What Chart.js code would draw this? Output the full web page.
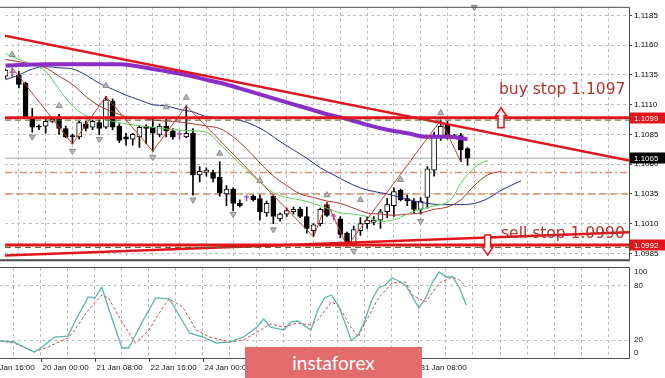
<!DOCTYPE html>
<html>
<head>
<meta charset="utf-8">
<script src="https://cdn.jsdelivr.net/npm/chart.js@4.4.1/dist/chart.umd.min.js"></script>
<style>
  html, body { margin: 0; padding: 0; background: #fff; }
  #wrap { position: relative; width: 665px; height: 378px; overflow: hidden; background: #fff; }
  #main { position: absolute; left: 0; top: 0; }
  #stoch { position: absolute; left: 0; top: 265px; }
  #logo {
    position: absolute; left: 245px; top: 347px; width: 177px; height: 31px;
    background: #e46b6b; color: #fff; font: 19px Lato, "Open Sans", sans-serif;
    text-align: center; line-height: 31px; z-index: 5;
  }
</style>
</head>
<body>
<div id="wrap">
  <canvas id="main" width="665" height="266"></canvas>
  <canvas id="stoch" width="665" height="113"></canvas>
  <div id="logo">instaforex</div>
</div>
<script>
// EURUSD H4 — bars are indexed from the "20 Jan 00:00" bar (index 0)
const FIRST_BAR = -6;
const OPEN  = [1.1134,1.1137,1.1135,1.1128,1.1099,1.1092,1.1092,1.1096,1.1098,1.1090,1.1084,1.1083,1.1094,1.1091,1.1095,1.1091,1.1113,1.1092,1.1083,1.1081,1.1083,1.1092,1.1091,1.1085,1.1092,1.1088,1.1085,1.1083,1.1086,1.1051,1.1053,1.1053,1.1049,1.1035,1.1039,1.1027,1.1032,1.1033,1.1031,1.1019,1.1033,1.1014,1.1018,1.1020,1.1022,1.1016,1.1004,1.1010,1.1026,1.1016,1.1014,1.1002,1.0993,1.1004,1.1010,1.1011,1.1013,1.1020,1.1025,1.1038,1.1031,1.1029,1.1022,1.1032,1.1055,1.1084,1.1093,1.1084,1.1084,1.1073];
const HIGH  = [1.1140,1.1141,1.1138,1.1129,1.1107,1.1093,1.1098,1.1099,1.1102,1.1092,1.1085,1.1096,1.1096,1.1097,1.1097,1.1117,1.1115,1.1094,1.1086,1.1086,1.1092,1.1093,1.1099,1.1094,1.1099,1.1090,1.1088,1.1109,1.1090,1.1058,1.1057,1.1055,1.1062,1.1042,1.1040,1.1030,1.1034,1.1034,1.1034,1.1029,1.1034,1.1019,1.1023,1.1024,1.1024,1.1024,1.1010,1.1023,1.1028,1.1018,1.1016,1.1003,1.1008,1.1015,1.1016,1.1016,1.1022,1.1031,1.1040,1.1039,1.1034,1.1031,1.1032,1.1058,1.1087,1.1097,1.1096,1.1085,1.1086,1.1074];
const LOW   = [1.1132,1.1133,1.1124,1.1099,1.1087,1.1089,1.1086,1.1095,1.1085,1.1082,1.1077,1.1081,1.1088,1.1089,1.1085,1.1090,1.1089,1.1078,1.1076,1.1076,1.1074,1.1077,1.1071,1.1083,1.1083,1.1081,1.1081,1.1082,1.1034,1.1045,1.1050,1.1045,1.1033,1.1025,1.1021,1.1024,1.1029,1.1029,1.1013,1.1016,1.1010,1.1012,1.1016,1.1018,1.1015,1.1002,1.0999,1.1008,1.1016,1.1013,1.0998,1.0991,1.0991,1.1000,1.1006,1.1009,1.1006,1.1015,1.1016,1.1029,1.1025,1.1019,1.1018,1.1023,1.1050,1.1080,1.1081,1.1082,1.1062,1.1059];
const CLOSE = [1.1139,1.1137,1.1127,1.1100,1.1091,1.1091,1.1096,1.1098,1.1090,1.1083,1.1083,1.1095,1.1090,1.1096,1.1090,1.1114,1.1091,1.1080,1.1081,1.1085,1.1091,1.1090,1.1086,1.1092,1.1088,1.1083,1.1085,1.1086,1.1051,1.1054,1.1055,1.1048,1.1036,1.1039,1.1027,1.1025,1.1032,1.1030,1.1020,1.1027,1.1016,1.1018,1.1021,1.1022,1.1016,1.1006,1.1009,1.1022,1.1017,1.1016,1.1001,1.0993,1.1005,1.1010,1.1013,1.1013,1.1020,1.1026,1.1037,1.1030,1.1029,1.1022,1.1029,1.1056,1.1083,1.1092,1.1083,1.1083,1.1072,1.1065];

// Alligator lines [bar index, price] (already shifted forward)
const JAW   = [[-6,1.1131],[-4,1.1135],[-2,1.1140],[0,1.1142],[2,1.1141],[4,1.1140],[6,1.1135],[8,1.1128],[10,1.1123],[12,1.1118],[14,1.1114],[16,1.1110],[18,1.1109],[20,1.1106],[22,1.1104],[24,1.1100],[27,1.1099],[29,1.1097],[31,1.1093],[33,1.1087],[35,1.1079],[37,1.1072],[39,1.1065],[41,1.1057],[43,1.1051],[45,1.1045],[47,1.1040],[49,1.1037],[51,1.1035],[53,1.1032],[55,1.1029],[57,1.1027],[59,1.1026],[62,1.1026],[64,1.1027],[66,1.1031],[68,1.1038],[71,1.1046]];
const TEETH = [[-6,1.1148],[-2,1.1144],[0,1.1141],[2,1.1134],[4,1.1127],[6,1.1117],[8,1.1109],[10,1.1104],[12,1.1100],[14,1.1099],[16,1.1097],[19,1.1096],[22,1.1094],[24,1.1092],[26,1.1090],[28,1.1083],[30,1.1073],[32,1.1061],[34,1.1050],[36,1.1042],[38,1.1035],[40,1.1032],[42,1.1029],[44,1.1027],[46,1.1023],[48,1.1019],[50,1.1018],[52,1.1017],[54,1.1018],[56,1.1019],[58,1.1022],[60,1.1024],[62,1.1030],[64,1.1042],[66,1.1051],[68,1.1054]];
const LIPS  = [[-6,1.1153],[-4,1.1148],[-2,1.1144],[0,1.1138],[2,1.1123],[4,1.1109],[6,1.1101],[8,1.1099],[10,1.1096],[13,1.1093],[16,1.1091],[19,1.1089],[22,1.1088],[24,1.1087],[26,1.1077],[28,1.1066],[30,1.1055],[32,1.1045],[34,1.1036],[36,1.1032],[38,1.1030],[40,1.1027],[42,1.1023],[44,1.1019],[46,1.1018],[48,1.1016],[50,1.1012],[52,1.1013],[54,1.1018],[56,1.1022],[58,1.1025],[60,1.1028],[61,1.1034],[62,1.1044],[64,1.1057],[65,1.1061],[66,1.1063]];
const MA_SLOW = [[-6,1.1143],[0,1.1144],[6,1.1144],[11,1.1144],[16,1.1140],[21,1.1135],[24,1.1131],[27,1.1127],[30,1.1122],[33,1.1117],[36,1.1112],[39,1.1107],[42,1.1102],[45,1.1098],[48,1.1093],[51,1.1089],[54,1.1086],[57,1.1083],[60,1.1083],[63,1.1081]];
const ZIGZAG = [[-5,1.1141],[4,1.1077],[9,1.1117],[16,1.1071],[21,1.1109],[40,1.0999],[42,1.1028],[45,1.0991],[59,1.1097],[62,1.1062]];
const FRACTAL_UP = [[-5,1.1152],[2,1.1109],[9,1.1126],[18,1.1108],[21,1.1116],[26,1.1069],[32,1.1046],[42,1.1034],[47,1.1030],[53,1.1047],[59,1.1103]];
const FRACTAL_DN = [[-2,1.1083],[4,1.1071],[8,1.1081],[16,1.1066],[22,1.1030],[28,1.1018],[34,1.1005],[46,1.0987],[56,1.1012]];
const TOP_MARK = [[64,1.1192]];

// objects
const RED_LEVELS   = [1.1099, 1.0992];
const ORDER_LEVELS = [1.1097, 1.0990];
const GUIDE_LEVELS = [1.1053, 1.1035];
const TREND_DOWN = [[-7,1.1169],[88,1.1062]];
const TREND_UP   = [[-7,1.0983],[88,1.1003]];
const NOTES = [['buy stop 1.1097', 67.7, 1.1119], ['sell stop 1.0990', 68, 1.0998]];
const ARROWS = [[68, 1.1099, 'up'], [66, 1.0992, 'down']];
const TAG_PRICES = [1.1099, 1.1065, 1.0992];

// stochastic %K / %D [bar index, value]
const STOCH_K = [[-6,18.9],[-4,17.8],[-1,6.7],[0,11.1],[2,23.3],[4,24.4],[5,40],[7,67.8],[8,66.7],[9,78.9],[10,55.6],[12,11.1],[13,11.1],[15,40],[17,66.7],[19,65.6],[20,53.3],[22,27.8],[24,23.3],[26,16.7],[28,17.8],[30,23.3],[32,34.4],[33,43.3],[34,34.4],[36,31.1],[37,40],[38,41.1],[40,31.1],[41,53.3],[42,66.7],[43,70],[44,58.9],[45,40],[46,18.9],[47,25.6],[48,42.2],[49,64.4],[50,77.8],[51,81.1],[52,88.9],[53,85.6],[54,81.1],[56,55.6],[57,66.7],[58,84.4],[59,95.6],[60,90],[61,90],[62,77.8],[63,58.9]];
const STOCH_D = [[-6,18.9],[-4,16.7],[-1,6.7],[1,12.2],[4,22.2],[5,31.1],[7,53.3],[9,70],[10,66.7],[12,40],[14,16.7],[16,31.1],[18,55.6],[19,65.6],[21,56.7],[23,31.1],[25,23.3],[28,17.8],[30,20],[32,28.9],[34,37.8],[36,34.4],[38,38.9],[40,36.7],[41,42.2],[43,62],[44,59],[46,33.3],[47,23.3],[48,38.9],[50,66.7],[52,83.3],[54,84.4],[55,70],[57,62.2],[59,83.3],[61,90],[62,86.7],[63,78.9]];
const STOCH_LEVELS = [20, 80];
const STOCH_LABELS = [100, 80, 20, 0];

// axes
const X_MIN = -6.07, X_MAX = 87.11;
const Y_MIN = 1.09801, Y_MAX = 1.11923;
const PRICE_TICKS = [1.0985, 1.1010, 1.1035, 1.1060, 1.1085, 1.1110, 1.1135, 1.1160, 1.1185];
const GRID_EVERY = 4;
const XLABEL_IDX = [-8, 0, 8, 16, 24, 32, 40, 48, 56];
const XLABEL_TXT = ['16 Jan 16:00', '20 Jan 00:00', '21 Jan 08:00', '22 Jan 16:00', '24 Jan 00:00', '27 Jan 08:00', '28 Jan 16:00', '30 Jan 00:00', '31 Jan 08:00'];

Chart.defaults.font.family = '"Liberation Sans", Arial, sans-serif';
Chart.defaults.font.size = 8;
Chart.defaults.color = '#000';

const RED = '#e0161c';
const GRID = '#bdbdbd';
const DOJI = '#9a5aa8';
const AXIS_W = 36;

const pts = pairs => pairs.map(([x, y]) => ({ x, y }));
const hline = v => [{ x: X_MIN, y: v }, { x: X_MAX, y: v }];
const bars = OPEN.map((o, k) => FIRST_BAR + k);
const lastClose = CLOSE[CLOSE.length - 1];
const ink = k => OPEN[k] === CLOSE[k] ? DOJI : '#000';
const fill = k => CLOSE[k] > OPEN[k] ? '#fff' : ink(k);

function line(data, color, width, order, extra) {
  return Object.assign({ type: 'line', data: pts(data), borderColor: color, borderWidth: width,
    pointRadius: 0, fill: false, order }, extra || {});
}
function level(v, color, width, order, dash) {
  return { type: 'line', data: hline(v), borderColor: color, borderWidth: width, borderDash: dash || [],
    pointRadius: 0, fill: false, order };
}
function marks(data, rotation, order, extra) {
  return Object.assign({ type: 'line', data: pts(data), showLine: false, pointStyle: 'triangle',
    pointRadius: 3.5, pointRotation: rotation, pointBackgroundColor: '#b8b8b8',
    pointBorderColor: '#8a8a8a', pointBorderWidth: 1, order }, extra || {});
}

function xScale(height) {
  return {
    type: 'linear', min: X_MIN, max: X_MAX, offset: false,
    ticks: { display: false },
    grid: { color: GRID, drawTicks: false, offset: false },
    border: { display: false, dash: [3, 3] },
    afterBuildTicks: s => {
      s.ticks = [];
      for (let v = Math.ceil(X_MIN / GRID_EVERY) * GRID_EVERY; v <= X_MAX; v += GRID_EVERY) s.ticks.push({ value: v });
    },
    afterFit: s => { s.height = height; }
  };
}

function drawArrow(ctx, cx, cy, dir) {
  const s = dir === 'up' ? 1 : -1;
  const tip = cy - s * 10, neck = tip + s * 8, end = cy + s * 10;
  ctx.beginPath();
  ctx.moveTo(cx, tip);
  ctx.lineTo(cx + 5.5, neck); ctx.lineTo(cx + 3, neck); ctx.lineTo(cx + 3, end);
  ctx.lineTo(cx - 3, end); ctx.lineTo(cx - 3, neck); ctx.lineTo(cx - 5.5, neck);
  ctx.closePath();
  ctx.fillStyle = '#fff'; ctx.fill();
  ctx.strokeStyle = RED; ctx.lineWidth = 1.5; ctx.stroke();
}

const mainDecor = {
  id: 'mainDecor',
  afterDraw(chart) {
    const { ctx, chartArea: a, scales: { x, y } } = chart;
    ctx.save();
    ARROWS.forEach(([i, p, dir]) => drawArrow(ctx, x.getPixelForValue(i), y.getPixelForValue(p), dir));
    ctx.font = '15.5px "DejaVu Sans", sans-serif';
    ctx.fillStyle = '#b3322b';
    ctx.textAlign = 'left';
    ctx.textBaseline = 'alphabetic';
    NOTES.forEach(([t, i, p]) => ctx.fillText(t, x.getPixelForValue(i), y.getPixelForValue(p)));

    // pane frame
    ctx.strokeStyle = '#4a4a4a'; ctx.lineWidth = 1;
    ctx.beginPath();
    ctx.moveTo(0, a.top + 0.5); ctx.lineTo(a.right + 0.5, a.top + 0.5);
    ctx.lineTo(a.right + 0.5, a.bottom);
    ctx.stroke();
    ctx.lineWidth = 2;
    ctx.beginPath(); ctx.moveTo(0, a.bottom + 1); ctx.lineTo(a.right + 1, a.bottom + 1); ctx.stroke();

    // price tags on the axis
    ctx.font = '8px "Liberation Sans", Arial, sans-serif';
    ctx.textBaseline = 'middle';
    TAG_PRICES.forEach(p => {
      const py = Math.round(y.getPixelForValue(p));
      ctx.fillStyle = p === lastClose ? '#000' : RED;
      ctx.fillRect(a.right + 1, py - 5.5, AXIS_W, 11);
      ctx.fillStyle = '#fff';
      ctx.fillText(p.toFixed(4), a.right + 5, py + 0.5);
    });
    ctx.restore();
  }
};

new Chart(document.getElementById('main'), {
  type: 'line',
  data: {
    datasets: [
      level(GUIDE_LEVELS[0], '#d9916b', 1.5, 100, [7, 3, 2, 3]),
      level(GUIDE_LEVELS[1], '#d9916b', 1.5, 100, [7, 4]),
      level(lastClose, '#c4c4c4', 1.5, 100),
      { type: 'bar', data: bars.map((b, k) => ({ x: b, y: [LOW[k], HIGH[k]] })),
        backgroundColor: bars.map((b, k) => ink(k)), barThickness: 1, grouped: false, order: 90 },
      { type: 'bar', data: bars.map((b, k) => ({ x: b, y: [OPEN[k], CLOSE[k]] })),
        backgroundColor: bars.map((b, k) => fill(k)), borderColor: bars.map((b, k) => ink(k)),
        borderWidth: 1, borderSkipped: false, barThickness: 5, minBarLength: 1, grouped: false, order: 89 },
      line(JAW, '#26318a', 1, 80, { cubicInterpolationMode: 'monotone' }),
      line(TEETH, '#a8352e', 1, 79, { cubicInterpolationMode: 'monotone' }),
      line(LIPS, '#5ccf5c', 1, 78, { cubicInterpolationMode: 'monotone' }),
      line(MA_SLOW, '#8b2dc6', 4, 77, { cubicInterpolationMode: 'monotone' }),
      line(ZIGZAG, '#cc3a34', 1, 70),
      marks(FRACTAL_UP, 0, 60),
      marks(FRACTAL_DN, 180, 60),
      marks(TOP_MARK, 180, 60, { clip: false }),
      level(RED_LEVELS[0], RED, 3, 50),
      level(RED_LEVELS[1], RED, 3, 50),
      line(TREND_DOWN, RED, 2.5, 49),
      line(TREND_UP, RED, 2.5, 49),
      level(ORDER_LEVELS[0], '#55652c', 1, 48, [6, 4]),
      level(ORDER_LEVELS[1], '#55652c', 1, 48, [6, 4])
    ]
  },
  options: {
    responsive: false,
    animation: false,
    events: [],
    layout: { padding: { top: 3, left: 0, right: 0, bottom: 0 } },
    plugins: { legend: { display: false }, tooltip: { enabled: false } },
    scales: {
      x: xScale(2),
      y: {
        position: 'right', min: Y_MIN, max: Y_MAX,
        afterBuildTicks: s => { s.ticks = PRICE_TICKS.map(v => ({ value: v })); },
        afterFit: s => { s.width = AXIS_W; },
        ticks: { callback: v => v.toFixed(4), padding: 2, autoSkip: false, color: '#000' },
        grid: { color: GRID, tickLength: 3, tickColor: '#444', tickBorderDash: [] },
        border: { display: false, dash: [3, 3] }
      }
    }
  },
  plugins: [mainDecor]
});

const stochDecor = {
  id: 'stochDecor',
  afterDraw(chart) {
    const { ctx, chartArea: a, scales: { x, y } } = chart;
    ctx.save();
    ctx.strokeStyle = '#4a4a4a'; ctx.lineWidth = 1;
    ctx.beginPath();
    ctx.moveTo(0, a.top - 0.5); ctx.lineTo(a.right + 0.5, a.top - 0.5);
    ctx.lineTo(a.right + 0.5, a.bottom + 0.5); ctx.lineTo(0, a.bottom + 0.5);
    ctx.stroke();

    ctx.fillStyle = '#111';
    ctx.font = '8px "Liberation Sans", Arial, sans-serif';
    ctx.textAlign = 'left'; ctx.textBaseline = 'middle';
    STOCH_LABELS.forEach(v => {
      let py = y.getPixelForValue(v);
      py = Math.min(Math.max(py, a.top + 4), a.bottom - 5);
      ctx.fillText(String(v), a.right + 5, py);
    });

    ctx.textBaseline = 'alphabetic';
    ctx.beginPath();
    XLABEL_IDX.forEach((i, n) => {
      const px = Math.round(x.getPixelForValue(i)) + 0.5;
      ctx.moveTo(px, a.bottom + 1); ctx.lineTo(px, a.bottom + 4);
      ctx.fillText(XLABEL_TXT[n], px + 1, a.bottom + 12);
    });
    ctx.stroke();
    ctx.restore();
  }
};

new Chart(document.getElementById('stoch'), {
  type: 'line',
  data: {
    datasets: [
      line(STOCH_D, '#d24a48', 1, 2, { borderDash: [3, 2] }),
      line(STOCH_K, '#5bb4ae', 1.3, 1)
    ]
  },
  options: {
    responsive: false,
    animation: false,
    events: [],
    layout: { padding: { top: 3, left: 0, right: 0, bottom: 0 } },
    plugins: { legend: { display: false }, tooltip: { enabled: false } },
    scales: {
      x: xScale(20),
      y: {
        position: 'right', min: 0, max: 100,
        afterBuildTicks: s => { s.ticks = STOCH_LEVELS.map(v => ({ value: v })); },
        afterFit: s => { s.width = AXIS_W; },
        ticks: { display: false },
        grid: { color: GRID, drawTicks: false },
        border: { display: false, dash: [3, 3] }
      }
    }
  },
  plugins: [stochDecor]
});
</script>
</body>
</html>
